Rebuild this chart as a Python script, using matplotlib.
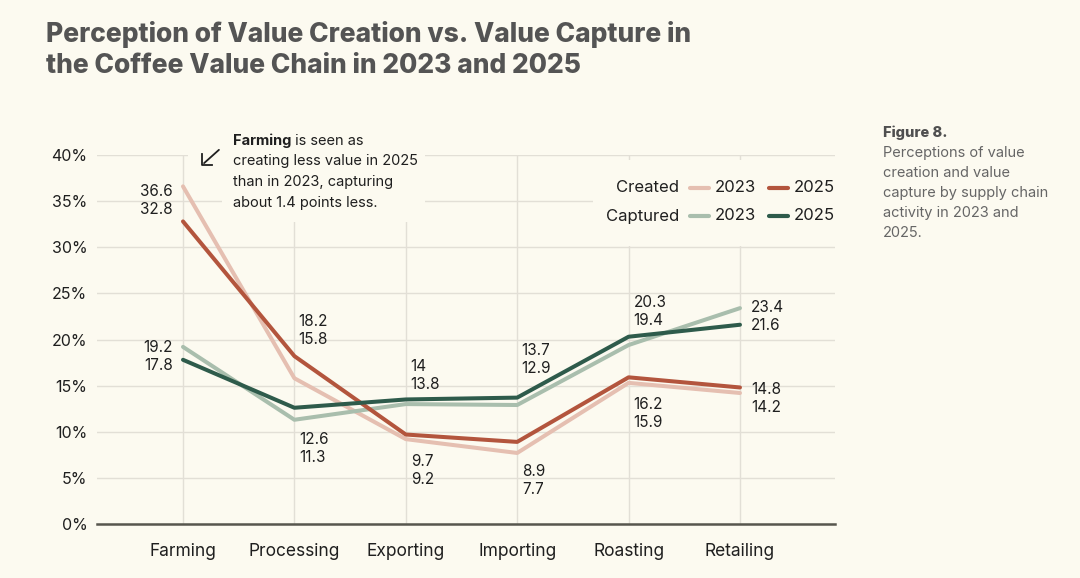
import matplotlib
matplotlib.use("Agg")
import matplotlib.pyplot as plt
from matplotlib.lines import Line2D
from matplotlib.patches import Rectangle

# Data (percent of value)
categories = ["Farming", "Processing", "Exporting", "Importing", "Roasting", "Retailing"]
created_2023 = [36.6, 15.8, 9.2, 7.7, 15.3, 14.2]
created_2025 = [32.8, 18.2, 9.7, 8.9, 15.9, 14.8]
captured_2023 = [19.2, 11.3, 13.0, 12.9, 19.4, 23.4]
captured_2025 = [17.8, 12.6, 13.5, 13.7, 20.3, 21.6]

# Value labels as printed on the chart (top line, bottom line)
created_labels = [("36.6", "32.8"), ("18.2", "15.8"), ("9.7", "9.2"),
                  ("8.9", "7.7"), ("16.2", "15.9"), ("14.8", "14.2")]
captured_labels = [("19.2", "17.8"), ("12.6", "11.3"), ("14", "13.8"),
                   ("13.7", "12.9"), ("20.3", "19.4"), ("23.4", "21.6")]

y_ticks = [0, 5, 10, 15, 20, 25, 30, 35, 40]

# Colours
BG = "#FCFAF0"
C_CREATED_23 = "#E5BFB1"
C_CREATED_25 = "#B3553D"
C_CAPTURED_23 = "#A9BEAD"
C_CAPTURED_25 = "#2E5B4B"
GRID = "#E2DFD6"
TEXT = "#1F1F1F"

W, H = 1080, 578
plt.rcParams["font.family"] = ["Inter", "DejaVu Sans"]

fig = plt.figure(figsize=(W / 100, H / 100), dpi=100, facecolor=BG)


def fx(px):
    return px / W


def fy(py):
    return 1 - py / H


ax = fig.add_axes([fx(97), fy(524), fx(835) - fx(97), fy(155) - fy(524)])
ax.set_facecolor(BG)
x = list(range(len(categories)))

lw = 2.9
ax.plot(x, created_2023, color=C_CREATED_23, lw=lw, zorder=3, solid_capstyle="round")
ax.plot(x, captured_2023, color=C_CAPTURED_23, lw=lw, zorder=3, solid_capstyle="round")
ax.plot(x, created_2025, color=C_CREATED_25, lw=lw, zorder=4, solid_capstyle="round")
ax.plot(x, captured_2025, color=C_CAPTURED_25, lw=lw, zorder=4, solid_capstyle="round")

ax.set_xlim(-0.772, 5.853)
ax.set_ylim(0, 40)
ax.set_xticks(x)
ax.set_xticklabels(categories)
ax.set_yticks(y_ticks)
ax.set_yticklabels([f"{t}%" for t in y_ticks])
ax.tick_params(axis="both", length=0, labelcolor=TEXT)
ax.tick_params(axis="y", pad=7, labelsize=11.5)
ax.tick_params(axis="x", pad=14, labelsize=12.5)
ax.grid(True, color=GRID, lw=1)
ax.set_axisbelow(True)
for side in ["top", "right", "left"]:
    ax.spines[side].set_visible(False)
ax.spines["bottom"].set_color("#57564E")
ax.spines["bottom"].set_linewidth(1.8)
ax.spines["bottom"].set_zorder(5)

# Label placement per category: (dx, dy, ha) in pixels from the higher point
created_pos = [(-10, -5, "right"), (4, 35, "left"), (5, -27, "left"),
               (5, -30, "left"), (5, -27, "left"), (11, -2, "left")]
captured_pos = [(-10, -1, "right"), (5, -32, "left"), (4, 33, "left"),
                (4, 47, "left"), (5, 34, "left"), (11, 1, "left")]


def put_labels(vals_a, vals_b, labels, positions):
    for i, (top, bottom) in enumerate(labels):
        dx, dy, ha = positions[i]
        y = max(vals_a[i], vals_b[i])
        for k, txt in enumerate((top, bottom)):
            ax.annotate(txt, xy=(i, y), xytext=(dx, dy - 18 * k),
                        textcoords="offset pixels", ha=ha, va="center",
                        fontsize=11, color=TEXT, zorder=6)


put_labels(created_2023, created_2025, created_labels, created_pos)
put_labels(captured_2023, captured_2025, captured_labels, captured_pos)

# background blocks behind annotation and legend (hide gridlines)
for (x0, y0, x1, y1) in [(188, 140, 226, 172), (222, 128, 425, 222), (593, 160, 845, 246)]:
    ax.add_patch(Rectangle((fx(x0), fy(y1)), fx(x1) - fx(x0), fy(y0) - fy(y1),
                           transform=fig.transFigure, facecolor=BG, edgecolor="none",
                           zorder=2, clip_on=False))

# Title
for k, line in enumerate(["Perception of Value Creation vs. Value Capture in",
                          "the Coffee Value Chain in 2023 and 2025"]):
    fig.text(fx(46), fy(35 + 31 * k), line, fontsize=19, fontweight=800,
             color="#545454", va="center")

# Annotation
ax.annotate("", xy=(fx(202), fy(165)), xytext=(fx(221), fy(148)),
            xycoords="figure fraction", textcoords="figure fraction",
            arrowprops=dict(arrowstyle="-", color=TEXT, lw=1.3))
ax.add_line(Line2D([fx(202), fx(202), fx(212)], [fy(154), fy(165), fy(165)],
                   transform=fig.transFigure, color=TEXT, lw=1.3, clip_on=False, zorder=7))
renderer = fig.canvas.get_renderer()
t_bold = fig.text(fx(233), fy(141), "Farming", fontsize=10.5, fontweight="bold",
                  color=TEXT, va="center")
bb = t_bold.get_window_extent(renderer)
fig.text(bb.x1 / W, fy(141), " is seen as", fontsize=10.5, color=TEXT, va="center")
for k, line in enumerate(["creating less value in 2025",
                          "than in 2023, capturing",
                          "about 1.4 points less."]):
    fig.text(fx(233), fy(161.5 + 20.5 * k), line, fontsize=10.5, color=TEXT, va="center")

# Legend built by hand
legend_rows = [("Created", 188, C_CREATED_23, C_CREATED_25),
               ("Captured", 216, C_CAPTURED_23, C_CAPTURED_25)]
for name, ypx, c23, c25 in legend_rows:
    fig.text(fx(679), fy(ypx), name, fontsize=12, color=TEXT, ha="right", va="center")
    fig.add_artist(Line2D([fx(690), fx(709)], [fy(ypx), fy(ypx)], color=c23, lw=3,
                          solid_capstyle="round"))
    fig.text(fx(715), fy(ypx), "2023", fontsize=12, color=TEXT, va="center")
    fig.add_artist(Line2D([fx(769), fx(788)], [fy(ypx), fy(ypx)], color=c25, lw=3,
                          solid_capstyle="round"))
    fig.text(fx(794), fy(ypx), "2025", fontsize=12, color=TEXT, va="center")

# Side caption
fig.text(fx(883), fy(133), "Figure 8.", fontsize=10.5, fontweight=800,
         color="#4F4F4F", va="center")
for k, line in enumerate(["Perceptions of value", "creation and value",
                          "capture by supply chain", "activity in 2023 and", "2025."]):
    fig.text(fx(883), fy(153 + 20 * k), line, fontsize=10.5, color="#666666", va="center")

fig.savefig("out.png", dpi=100, facecolor=BG)
